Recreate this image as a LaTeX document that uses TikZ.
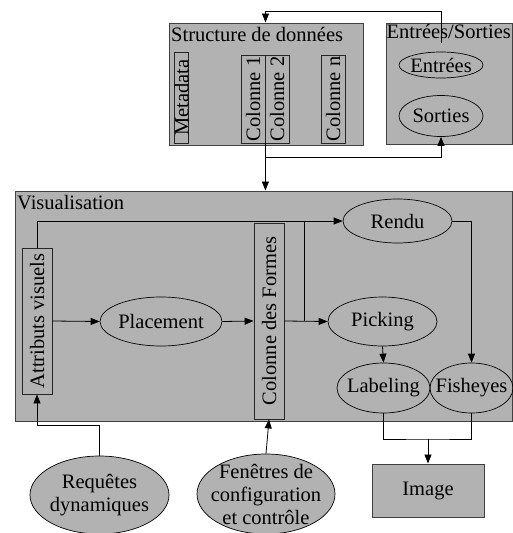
\documentclass[tikz,border=0pt]{standalone}
\usepackage{fontspec}
\setmainfont{Liberation Serif}
\usepackage{graphicx}
\usetikzlibrary{shapes.geometric,arrows.meta}
\begin{document}
\begin{tikzpicture}[x=1pt,y=-1pt,
  font=\fontsize{20.5}{23}\selectfont,
  grp/.style={draw=black!75,fill=black!30,line width=1pt},
  vbox/.style={draw=black!85,line width=0.8pt,inner sep=0pt},
  ell/.style={ellipse,draw,line width=0.7pt,inner sep=0pt},
  gell/.style={ell,fill=black!30},
  ttl/.style={anchor=base west,inner sep=0pt},
  ln/.style={line width=0.8pt},
  arr/.style={ln,-{Triangle[length=9pt,width=7pt]}}]
\useasboundingbox (0,0) rectangle (513,533);
% group boxes
\node[grp,minimum width=194pt,minimum height=122pt,inner sep=0pt] (struct) at (266,84) {};
\node[grp,minimum width=126.5pt,minimum height=121pt,inner sep=0pt] (es) at (449.25,83.5) {};
\node[grp,minimum width=497.5pt,minimum height=230pt,inner sep=0pt] (vis) at (263.75,306) {};
\node[ttl] (tstruct) at (171,41.5) {Structure de données};
\node[ttl] (tes) at (386.5,38.5) {Entrées/Sorties};
\node[ttl] (tvis) at (17,209.5) {Visualisation};
% structure columns
\node[vbox,minimum width=13pt,minimum height=91pt] (meta) at (181.5,97.5) {\rotatebox{90}{Metadata}};
\node[vbox,minimum width=24pt,minimum height=88pt] (col1) at (253,99) {\rotatebox{90}{Colonne 1}};
\node[vbox,minimum width=24pt,minimum height=88pt] (col2) at (277,99) {\rotatebox{90}{Colonne 2}};
\node[vbox,minimum width=24pt,minimum height=88pt] (coln) at (333,99) {\rotatebox{90}{Colonne n}};
% entrees / sorties
\node[ell,minimum width=84pt,minimum height=26pt,label=center:Entrées] (entrees) at (441,65) {};
\node[ell,minimum width=84pt,minimum height=41pt,label=center:Sorties] (sorties) at (441,116) {};
% visualisation
\node[vbox,minimum width=30pt,minimum height=146pt] (attr) at (37,321) {\rotatebox{90}{Attributs visuels}};
\node[ell,minimum width=122pt,minimum height=49pt,label=center:Placement] (placement) at (161,321.5) {};
\node[vbox,minimum width=30pt,minimum height=196pt] (cf) at (269,321) {\rotatebox{90}{Colonne des Formes}};
\node[ell,minimum width=109pt,minimum height=44pt,label=center:Rendu] (rendu) at (397.5,221) {};
\node[ell,minimum width=109pt,minimum height=49pt,label=center:Picking] (picking) at (382.5,321.5) {};
\node[ell,minimum width=93pt,minimum height=50pt,label=center:Labeling] (labeling) at (383.5,388) {};
\node[ell,minimum width=83pt,minimum height=50pt,label=center:Fisheyes] (fisheyes) at (471.5,388) {};
% outside
\node[grp,minimum width=112pt,minimum height=53pt,inner sep=0pt,label=center:Image] (image) at (428,490.5) {};
\node[gell,minimum width=139pt,minimum height=78pt,label={[align=center]center:{Requêtes\\dynamiques}}] (req) at (99.5,495) {};
\node[gell,minimum width=138pt,minimum height=80pt,label={[align=center]center:{Fenêtres de\\configuration\\et contrôle}}] (fen) at (266,494) {};
% junctions
\coordinate (j1) at (265.5,157);
\coordinate (e1) at (441,43);
\coordinate (top1) at (265.5,11);
\coordinate (j2) at (304,221);
\coordinate (j3) at (428,439);
\coordinate (j4) at (37,425);
% connectors
\draw[arr] (col1.south east) -- (col1.south east |- vis.north);
\draw[arr] (j1) -| (sorties.south);
\draw[arr] (e1) |- (top1) -- (top1 |- struct.north);
\draw[arr] (attr.east) -- (placement.west);
\draw[arr] (placement.east) -- (cf.west);
\draw[arr] (cf.east) -- (picking.west);
\draw[arr] (attr.north) |- (rendu.west);
\draw[ln] (cf.east -| j2) -- (j2);
\draw[arr] (rendu.east) -| (fisheyes.north);
\draw[arr] (picking.south) -- (labeling.north);
\draw[ln] (labeling.south) |- (j3) -| (fisheyes.south);
\draw[arr] (j3) -- (image.north);
\draw[arr] (req.north) |- (j4) -- (attr.south);
\draw[arr] (fen.north) -- (cf.south);
\end{tikzpicture}
\end{document}
